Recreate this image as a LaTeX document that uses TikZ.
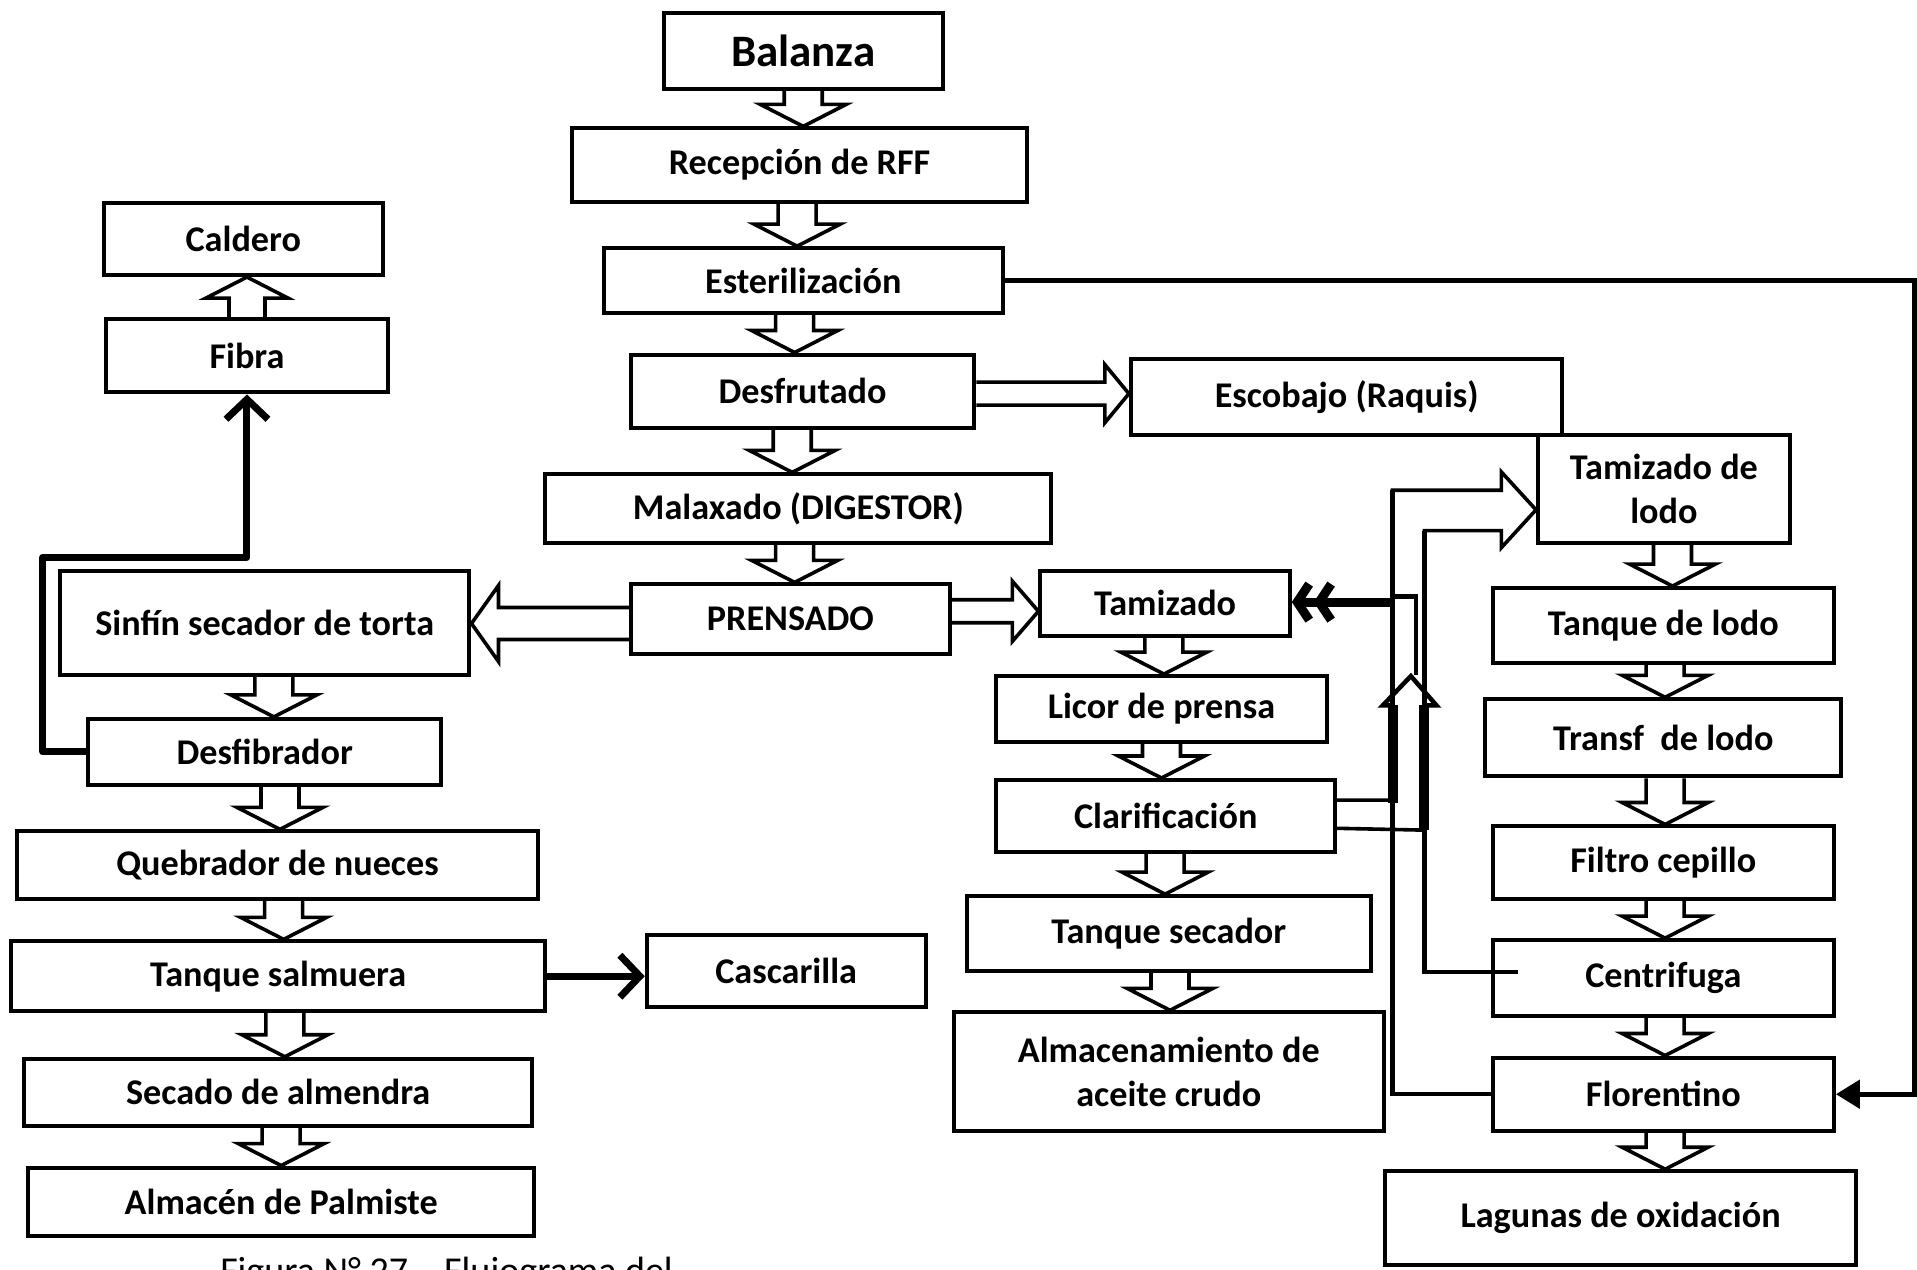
\documentclass[tikz,border=0pt]{standalone}
\usepackage{fontspec}
\setmainfont{Carlito}
\usetikzlibrary{arrows.meta,calc}

% hollow block arrows between boxes (offsets in pt)
\newcommand\downblk[3]{% x, upper node, lower node
  \draw[hollow] let \p1=(#2.south), \p2=(#3.north), \p3=(#1,0) in
    (\x3-19pt,\y1) -- (\x3-19pt,\y2+22pt) -- (\x3-43pt,\y2+22pt) -- (\x3,\y2)
    -- (\x3+43pt,\y2+22pt) -- (\x3+19pt,\y2+22pt) -- (\x3+19pt,\y1);
}
\newcommand\upblk[3]{% x, lower node, upper node
  \draw[hollow] let \p1=(#2.north), \p2=(#3.south), \p3=(#1,0) in
    (\x3-18pt,\y1) -- (\x3-18pt,\y2-21pt) -- (\x3-41pt,\y2-21pt) -- (\x3,\y2)
    -- (\x3+41pt,\y2-21pt) -- (\x3+18pt,\y2-21pt) -- (\x3+18pt,\y1);
}
\newcommand\rightblk[6]{% y, source, target, shaft half, head half, head length
  \draw[hollow] let \p1=(#2.east), \p2=(#3.west), \p3=(0,#1) in
    (\x1,\y3+#4) -- (\x2-#6,\y3+#4) -- (\x2-#6,\y3+#5) -- (\x2,\y3)
    -- (\x2-#6,\y3-#5) -- (\x2-#6,\y3-#4) -- (\x1,\y3-#4);
}
\newcommand\leftblk[6]{% y, source, target, shaft half, head half, head length
  \draw[hollow] let \p1=(#2.west), \p2=(#3.east), \p3=(0,#1) in
    (\x1,\y3+#4) -- (\x2+#6,\y3+#4) -- (\x2+#6,\y3+#5) -- (\x2,\y3)
    -- (\x2+#6,\y3-#5) -- (\x2+#6,\y3-#4) -- (\x1,\y3-#4);
}
\def\unitpt{1.2226pt}
\newcommand\procbox[6]{% name, x1, y1, x2, y2, text
  \node[box, minimum width={(#4-#2)*\unitpt}, minimum height={(#5-#3)*\unitpt}]
    (#1) at ({(#2+#4)/2},{(#3+#5)/2}) {#6};
}

\begin{document}
\begin{tikzpicture}[x=1.2226pt,y=-1.2226pt,
  box/.style={draw, line width=4pt, inner sep=0pt, align=center,
    font=\fontsize{36.2}{44}\selectfont\bfseries},
  hollow/.style={draw, line width=3.6pt, line join=miter},
  heavy/.style={line width=7pt, line cap=round, line join=round},
  wire/.style={line width=4.5pt},
  bold wire/.style={line width=10pt},
  barb/.style={-{Straight Barb[length=20pt,width=42pt]}},
]
\useasboundingbox[fill=white] (0,0) rectangle (1568,1038);

% main line
\node[box, font=\fontsize{45}{50}\selectfont\bfseries,
  minimum width={228*\unitpt}, minimum height={62*\unitpt}] (bal) at (657,42) {Balanza};
\procbox{rec}{468}{105}{840}{165}{Recepción de RFF}
\procbox{est}{494}{203}{820}{256}{Esterilización}
\procbox{desf}{516}{290}{797}{350}{Desfrutado}
\procbox{esc}{925}{294}{1278}{356}{Escobajo (Raquis)}
\procbox{mal}{446}{388}{860}{444}{Malaxado (DIGESTOR)}
\procbox{pren}{516}{478}{777}{535}{PRENSADO}

% fibre and nut line
\procbox{cald}{85}{166}{313}{225}{Caldero}
\procbox{fib}{87}{261}{317}{321}{Fibra}
\procbox{sin}{49}{467}{384}{552}{Sinfín secador de torta}
\procbox{dfb}{72}{588}{361}{642}{Desfibrador}
\procbox{queb}{14}{680}{440}{735}{Quebrador de nueces}
\procbox{salm}{9}{770}{446}{827}{Tanque salmuera}
\procbox{casc}{529}{765}{757}{824}{Cascarilla}
\procbox{alm}{20}{866}{435}{921}{Secado de almendra}
\procbox{palm}{23}{955}{437}{1011}{Almacén de Palmiste}

% oil line
\procbox{tam}{851}{467}{1055}{520}{Tamizado}
\procbox{lic}{815}{553}{1085}{607}{Licor de prensa}
\procbox{clar}{815}{638}{1092}{697}{Clarificación}
\procbox{tsec}{791}{733}{1121}{794}{Tanque secador}
\procbox{acei}{780}{828}{1132}{925}{Almacenamiento de\\aceite crudo}

% sludge line
\procbox{tlodo}{1258}{356}{1464}{444}{Tamizado de\\lodo}
\procbox{tqlodo}{1221}{481}{1500}{542}{Tanque de lodo}
\procbox{trans}{1215}{572}{1506}{635}{Transf~ de lodo}
\procbox{filt}{1221}{676}{1500}{735}{Filtro cepillo}
\procbox{cent}{1221}{769}{1500}{831}{Centrifuga}
\procbox{flor}{1221}{865}{1500}{925}{Florentino}
\procbox{lag}{1133}{958}{1518}{1035}{Lagunas de oxidación}

% block arrows
\downblk{657}{bal}{rec}
\downblk{652}{rec}{est}
\downblk{650}{est}{desf}
\downblk{648}{desf}{mal}
\downblk{650}{mal}{pren}
\downblk{224}{sin}{dfb}
\downblk{229}{dfb}{queb}
\downblk{232}{queb}{salm}
\downblk{233}{salm}{alm}
\downblk{230}{alm}{palm}
\downblk{952}{tam}{lic}
\downblk{950}{lic}{clar}
\downblk{953}{clar}{tsec}
\downblk{957}{tsec}{acei}
\downblk{1368}{tlodo}{tqlodo}
\downblk{1362}{tqlodo}{trans}
\downblk{1362}{trans}{filt}
\downblk{1362}{filt}{cent}
\downblk{1362}{cent}{flor}
\downblk{1362}{flor}{lag}
\upblk{202}{fib}{cald}
\rightblk{322}{desf}{esc}{11.5pt}{29pt}{24pt}
\rightblk{500}{pren}{tam}{11.5pt}{30pt}{26pt}
\leftblk{510}{pren}{sin}{16pt}{38pt}{27pt}

% fibre to boiler, shells out
\draw[heavy, barb] (dfb.west) -| (35,456) -| (fib.south);
\draw[heavy, barb] (salm.east) -- (salm.east -| casc.west);

% condensate from sterilisation to the florentine tank
\draw[line width=5pt, line join=miter, -{Triangle[length=24pt,width=28pt]}]
  (est.east) -| ($(flor.east)+(64,0)$) -- (flor.east);

% sludge from clarification to the sludge screen
\path (tlodo.west) ++(0,17) coordinate (lodotip);
\draw[hollow] ($(clar.east)+(0,-13)$) -| (1139,401) -- (1228,401) -- (1228,386)
  -- (lodotip) -- (1228,448) -- (1228,434) -| (1165,679) -- ($(clar.east)+(0,10)$);
\draw[wire] (1139,401) |- (flor.west);
\draw[wire] (1165,434) |- ($(cent.west)+(22,-5)$);
\draw[wire] (1139,488) -- (1158,488) -- (1158,552);
\draw[wire, line join=miter] (1139,577) -- (1131,577) -- (1154,553) -- (1175,577) -- (1165,577);
\draw[bold wire] (1139,577) -- (1139,657);
\draw[bold wire] (1165,577) -- (1165,679);
\draw[line width=9pt, -{Straight Barb[length=12pt,width=36pt] Straight Barb[length=12pt,width=36pt]}]
  ($(tam.east)+(84,-1)$) coordinate (retorno) -- ($(tam.east)+(0,-1)$);

% caption, cut by the page edge
\begin{scope}
  \clip (0,0) rectangle (1568,1038);
  \node[anchor=base west, inner sep=0pt, font=\fontsize{38}{44}\selectfont]
    (caption) at (180,1050) {Figura N° 27 – Flujograma del};
\end{scope}
\end{tikzpicture}
\end{document}
